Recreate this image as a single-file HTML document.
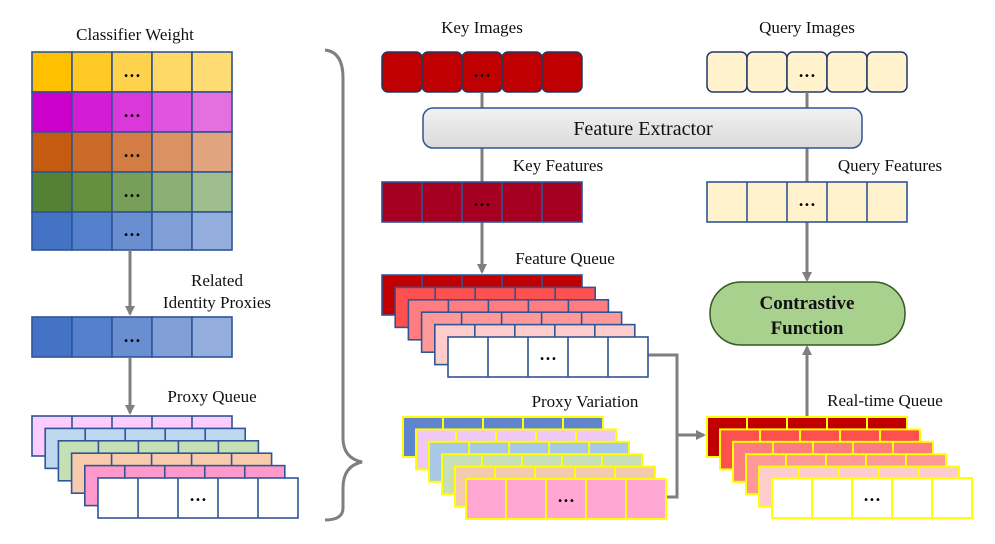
<!DOCTYPE html>
<html><head><meta charset="utf-8"><style>
html,body{margin:0;padding:0;background:#fff;}
svg{display:block;font-family:"Liberation Serif",serif;}
.b{stroke:#2F5597;stroke-width:1.6;}
.y{stroke:#FFFF00;stroke-width:2;}
.l{fill:none;}
.t{font-size:17px;fill:#111;}
.d{font-size:10px;fill:#000;font-family:"DejaVu Sans",sans-serif;}
</style></head><body>
<svg width="995" height="544" viewBox="0 0 995 544" xmlns="http://www.w3.org/2000/svg">
<defs>
<marker id="a" markerWidth="10" markerHeight="10" refX="8" refY="5" orient="auto" markerUnits="userSpaceOnUse"><path d="M0,0 L10,5 L0,10 z" fill="#7F7F7F"/></marker>
<linearGradient id="fe" x1="0" y1="0" x2="0" y2="1"><stop offset="0" stop-color="#F2F2F2"/><stop offset="1" stop-color="#DADADA"/></linearGradient>
</defs>

<!-- texts -->
<text class="t" x="135" y="40" text-anchor="middle">Classifier Weight</text>
<text class="t" x="217" y="286" text-anchor="middle">Related</text>
<text class="t" x="217" y="308" text-anchor="middle">Identity Proxies</text>
<text class="t" x="212" y="402" text-anchor="middle">Proxy Queue</text>
<text class="t" x="482" y="33" text-anchor="middle">Key Images</text>
<text class="t" x="807" y="33" text-anchor="middle">Query Images</text>
<text class="t" x="558" y="171" text-anchor="middle">Key Features</text>
<text class="t" x="890" y="171" text-anchor="middle">Query Features</text>
<text class="t" x="565" y="264" text-anchor="middle">Feature Queue</text>
<text class="t" x="585" y="407" text-anchor="middle">Proxy Variation</text>
<text class="t" x="885" y="406" text-anchor="middle">Real-time Queue</text>

<!-- classifier grid -->
<g class="b">
<rect x="32" y="52" width="40" height="40" fill="#FFC000"/><rect x="72" y="52" width="40" height="40" fill="#FFC926"/><rect x="112" y="52" width="40" height="40" fill="#FFD24D"/><rect x="152" y="52" width="40" height="40" fill="#FFD966"/><rect x="192" y="52" width="40" height="40" fill="#FFDC73"/>
<rect x="32" y="92" width="40" height="40" fill="#CC00CC"/><rect x="72" y="92" width="40" height="40" fill="#D41CD4"/><rect x="112" y="92" width="40" height="40" fill="#DB38DB"/><rect x="152" y="92" width="40" height="40" fill="#E055E0"/><rect x="192" y="92" width="40" height="40" fill="#E470E0"/>
<rect x="32" y="132" width="40" height="40" fill="#C55A11"/><rect x="72" y="132" width="40" height="40" fill="#CC6A2A"/><rect x="112" y="132" width="40" height="40" fill="#D37D45"/><rect x="152" y="132" width="40" height="40" fill="#DA9264"/><rect x="192" y="132" width="40" height="40" fill="#E0A57F"/>
<rect x="32" y="172" width="40" height="40" fill="#548235"/><rect x="72" y="172" width="40" height="40" fill="#65913F"/><rect x="112" y="172" width="40" height="40" fill="#779F59"/><rect x="152" y="172" width="40" height="40" fill="#8CAF75"/><rect x="192" y="172" width="40" height="40" fill="#9FBD8E"/>
<rect x="32" y="212" width="40" height="38" fill="#4472C4"/><rect x="72" y="212" width="40" height="38" fill="#5580CC"/><rect x="112" y="212" width="40" height="38" fill="#6A8FD1"/><rect x="152" y="212" width="40" height="38" fill="#7F9FD6"/><rect x="192" y="212" width="40" height="38" fill="#93AEDC"/>
<rect x="32" y="317" width="40" height="40" fill="#4472C4"/><rect x="72" y="317" width="40" height="40" fill="#5580CC"/><rect x="112" y="317" width="40" height="40" fill="#6A8FD1"/><rect x="152" y="317" width="40" height="40" fill="#7F9FD6"/><rect x="192" y="317" width="40" height="40" fill="#93AEDC"/>
</g>
<g class="d" text-anchor="middle"><text x="132" y="79">•••</text><text x="132" y="119">•••</text><text x="132" y="159">•••</text><text x="132" y="199">•••</text><text x="132" y="238">•••</text><text x="132" y="344">•••</text></g>

<!-- arrows left -->
<g stroke="#7F7F7F" stroke-width="3" fill="none">
<path d="M130 250V314" marker-end="url(#a)"/>
<path d="M130 357V413" marker-end="url(#a)"/>
</g>

<!-- proxy queue -->
<g class="b">
<g transform="translate(32,416)"><rect width="200" height="40" fill="#FFCCFF"/><path class="l" d="M40 0V40M80 0V40M120 0V40M160 0V40"/></g>
<g transform="translate(45.2,428.4)"><rect width="200" height="40" fill="#BDD7EE"/><path class="l" d="M40 0V40M80 0V40M120 0V40M160 0V40"/></g>
<g transform="translate(58.4,440.8)"><rect width="200" height="40" fill="#C5E0B4"/><path class="l" d="M40 0V40M80 0V40M120 0V40M160 0V40"/></g>
<g transform="translate(71.6,453.2)"><rect width="200" height="40" fill="#F8CBAD"/><path class="l" d="M40 0V40M80 0V40M120 0V40M160 0V40"/></g>
<g transform="translate(84.8,465.6)"><rect width="200" height="40" fill="#FF99CC"/><path class="l" d="M40 0V40M80 0V40M120 0V40M160 0V40"/></g>
<g transform="translate(98,478)"><rect width="200" height="40" fill="#FFFFFF"/><path class="l" d="M40 0V40M80 0V40M120 0V40M160 0V40"/></g>
</g>
<text class="d" x="198" y="503" text-anchor="middle">•••</text>

<!-- brace -->
<path d="M325 50 Q343 52 343 78 V438 Q343 458 362 462 Q343 466 343 488 V508 Q343 520 325 520" stroke="#7F7F7F" stroke-width="3" fill="none"/>

<!-- key images -->
<g stroke="#1F3864" stroke-width="1.5" fill="#C00000">
<rect x="382" y="52" width="40" height="40" rx="6"/><rect x="422" y="52" width="40" height="40" rx="6"/><rect x="462" y="52" width="40" height="40" rx="6"/><rect x="502" y="52" width="40" height="40" rx="6"/><rect x="542" y="52" width="40" height="40" rx="6"/>
</g>
<g stroke="#1F3864" stroke-width="1.5" fill="#FFF2CC">
<rect x="707" y="52" width="40" height="40" rx="6"/><rect x="747" y="52" width="40" height="40" rx="6"/><rect x="787" y="52" width="40" height="40" rx="6"/><rect x="827" y="52" width="40" height="40" rx="6"/><rect x="867" y="52" width="40" height="40" rx="6"/>
</g>
<text class="d" x="482" y="79" text-anchor="middle">•••</text>
<text class="d" x="807" y="79" text-anchor="middle">•••</text>

<!-- connectors -->
<g stroke="#7F7F7F" stroke-width="3" fill="none">
<path d="M482 92V108M482 148V182"/>
<path d="M807 92V108M807 148V182"/>
<path d="M482 222V272" marker-end="url(#a)"/>
<path d="M807 222V280" marker-end="url(#a)"/>
<path d="M807 417V347" marker-end="url(#a)"/>
<path d="M648 355H677V497H667"/>
<path d="M677 435H704" marker-end="url(#a)"/>
</g>

<!-- feature extractor -->
<rect x="423" y="108" width="439" height="40" rx="10" fill="url(#fe)" stroke="#2F5597" stroke-width="1.5"/>
<text x="643" y="135" text-anchor="middle" font-size="20" fill="#111">Feature Extractor</text>

<!-- features -->
<g class="b"><g transform="translate(382,182)"><rect width="200" height="40" fill="#A50021"/><path class="l" d="M40 0V40M80 0V40M120 0V40M160 0V40"/></g>
<g transform="translate(707,182)"><rect width="200" height="40" fill="#FFF2CC"/><path class="l" d="M40 0V40M80 0V40M120 0V40M160 0V40"/></g></g>
<text class="d" x="482" y="208" text-anchor="middle">•••</text>
<text class="d" x="807" y="208" text-anchor="middle">•••</text>

<!-- contrastive -->
<rect x="710" y="282" width="195" height="63" rx="31" fill="#A9D18E" stroke="#385723" stroke-width="1.5"/>
<text x="807" y="309" text-anchor="middle" font-size="19" font-weight="bold" fill="#111">Contrastive</text>
<text x="807" y="334" text-anchor="middle" font-size="19" font-weight="bold" fill="#111">Function</text>

<!-- feature queue -->
<g class="b">
<g transform="translate(382,275)"><rect width="200" height="40" fill="#C00000"/><path class="l" d="M40 0V40M80 0V40M120 0V40M160 0V40"/></g>
<g transform="translate(395.2,287.4)"><rect width="200" height="40" fill="#FF5050"/><path class="l" d="M40 0V40M80 0V40M120 0V40M160 0V40"/></g>
<g transform="translate(408.4,299.8)"><rect width="200" height="40" fill="#FF7C80"/><path class="l" d="M40 0V40M80 0V40M120 0V40M160 0V40"/></g>
<g transform="translate(421.6,312.2)"><rect width="200" height="40" fill="#FF9999"/><path class="l" d="M40 0V40M80 0V40M120 0V40M160 0V40"/></g>
<g transform="translate(434.8,324.6)"><rect width="200" height="40" fill="#FFCCCC"/><path class="l" d="M40 0V40M80 0V40M120 0V40M160 0V40"/></g>
<g transform="translate(448,337)"><rect width="200" height="40" fill="#FFFFFF"/><path class="l" d="M40 0V40M80 0V40M120 0V40M160 0V40"/></g>
</g>
<text class="d" x="548" y="362" text-anchor="middle">•••</text>

<!-- proxy variation -->
<g class="y">
<g transform="translate(403,417)"><rect width="200" height="40" fill="#5F86CC"/><path class="l" d="M40 0V40M80 0V40M120 0V40M160 0V40"/></g>
<g transform="translate(416,429.4)"><rect width="200" height="40" fill="#EFC8F5"/><path class="l" d="M40 0V40M80 0V40M120 0V40M160 0V40"/></g>
<g transform="translate(429,441.8)"><rect width="200" height="40" fill="#A9C8E6"/><path class="l" d="M40 0V40M80 0V40M120 0V40M160 0V40"/></g>
<g transform="translate(442,454.2)"><rect width="200" height="40" fill="#C8DFB8"/><path class="l" d="M40 0V40M80 0V40M120 0V40M160 0V40"/></g>
<g transform="translate(455,466.6)"><rect width="200" height="40" fill="#F5CBB0"/><path class="l" d="M40 0V40M80 0V40M120 0V40M160 0V40"/></g>
<g transform="translate(466,479)"><rect width="200" height="40" fill="#FFA6D2"/><path class="l" d="M40 0V40M80 0V40M120 0V40M160 0V40"/></g>
</g>
<text class="d" x="566" y="504" text-anchor="middle">•••</text>

<!-- real-time queue -->
<g class="y">
<g transform="translate(707,417)"><rect width="200" height="40" fill="#C00000"/><path class="l" d="M40 0V40M80 0V40M120 0V40M160 0V40"/></g>
<g transform="translate(720,429.4)"><rect width="200" height="40" fill="#FF5050"/><path class="l" d="M40 0V40M80 0V40M120 0V40M160 0V40"/></g>
<g transform="translate(733,441.8)"><rect width="200" height="40" fill="#FF7C80"/><path class="l" d="M40 0V40M80 0V40M120 0V40M160 0V40"/></g>
<g transform="translate(746,454.2)"><rect width="200" height="40" fill="#FF9999"/><path class="l" d="M40 0V40M80 0V40M120 0V40M160 0V40"/></g>
<g transform="translate(759,466.6)"><rect width="200" height="40" fill="#FFCCCC"/><path class="l" d="M40 0V40M80 0V40M120 0V40M160 0V40"/></g>
<g transform="translate(772,478)"><rect width="200" height="40" fill="#FFFFFF"/><path class="l" d="M40 0V40M80 0V40M120 0V40M160 0V40"/></g>
</g>
<text class="d" x="872" y="503" text-anchor="middle">•••</text>
</svg>
</body></html>
